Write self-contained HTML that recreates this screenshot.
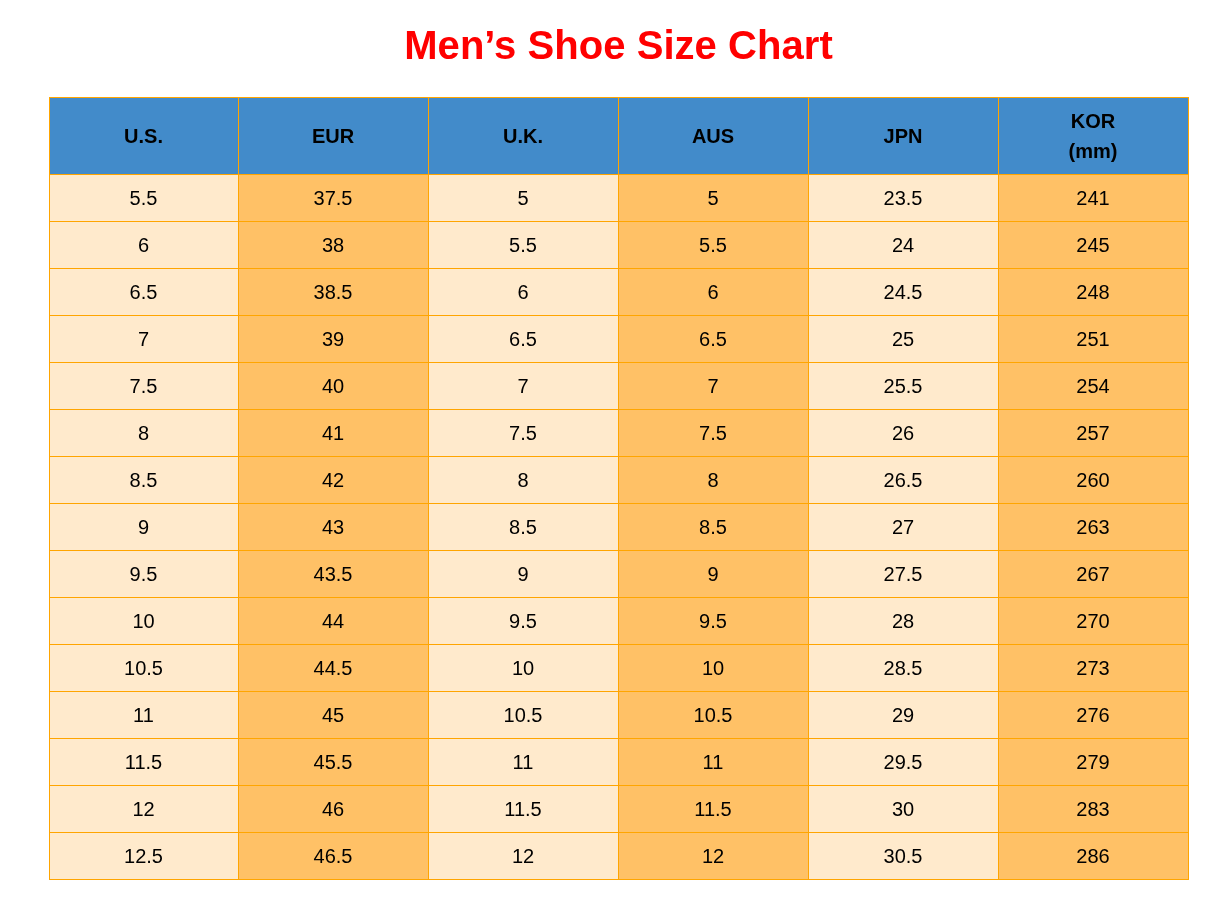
<!DOCTYPE html>
<html lang="en">
<head>
<meta charset="utf-8">
<title>Men’s Shoe Size Chart</title>
<style>
html,body{margin:0;padding:0;background:#fff;}
body{width:1230px;height:910px;position:relative;overflow:hidden;font-family:"Liberation Sans",Arial,sans-serif;color:#000;}
h1{position:absolute;left:0;top:22px;width:1230px;margin:0;text-align:center;font-size:40px;line-height:46px;font-weight:bold;color:#ff0000;white-space:nowrap;letter-spacing:0.05px;text-indent:7px}
.grid{position:absolute;left:49px;top:97px;width:1138px;height:781px;padding:1px;background:#ffa500;display:grid;grid-template-columns:188px repeat(5,189px);grid-template-rows:76px repeat(15,46px);gap:1px;}
.grid div{box-sizing:border-box;padding-right:1px;display:flex;align-items:center;justify-content:center;text-align:center;font-size:20px;line-height:30px;}
.h{background:#428bca;font-weight:bold;}
.a{background:#ffeacc;}
.b{background:#ffc166;}
</style>
</head>
<body>
<h1>Men’s Shoe Size Chart</h1>
<div class="grid">
<div class="h">U.S.</div>
<div class="h">EUR</div>
<div class="h">U.K.</div>
<div class="h">AUS</div>
<div class="h">JPN</div>
<div class="h">KOR<br>(mm)</div>
<div class="a">5.5</div>
<div class="b">37.5</div>
<div class="a">5</div>
<div class="b">5</div>
<div class="a">23.5</div>
<div class="b">241</div>
<div class="a">6</div>
<div class="b">38</div>
<div class="a">5.5</div>
<div class="b">5.5</div>
<div class="a">24</div>
<div class="b">245</div>
<div class="a">6.5</div>
<div class="b">38.5</div>
<div class="a">6</div>
<div class="b">6</div>
<div class="a">24.5</div>
<div class="b">248</div>
<div class="a">7</div>
<div class="b">39</div>
<div class="a">6.5</div>
<div class="b">6.5</div>
<div class="a">25</div>
<div class="b">251</div>
<div class="a">7.5</div>
<div class="b">40</div>
<div class="a">7</div>
<div class="b">7</div>
<div class="a">25.5</div>
<div class="b">254</div>
<div class="a">8</div>
<div class="b">41</div>
<div class="a">7.5</div>
<div class="b">7.5</div>
<div class="a">26</div>
<div class="b">257</div>
<div class="a">8.5</div>
<div class="b">42</div>
<div class="a">8</div>
<div class="b">8</div>
<div class="a">26.5</div>
<div class="b">260</div>
<div class="a">9</div>
<div class="b">43</div>
<div class="a">8.5</div>
<div class="b">8.5</div>
<div class="a">27</div>
<div class="b">263</div>
<div class="a">9.5</div>
<div class="b">43.5</div>
<div class="a">9</div>
<div class="b">9</div>
<div class="a">27.5</div>
<div class="b">267</div>
<div class="a">10</div>
<div class="b">44</div>
<div class="a">9.5</div>
<div class="b">9.5</div>
<div class="a">28</div>
<div class="b">270</div>
<div class="a">10.5</div>
<div class="b">44.5</div>
<div class="a">10</div>
<div class="b">10</div>
<div class="a">28.5</div>
<div class="b">273</div>
<div class="a">11</div>
<div class="b">45</div>
<div class="a">10.5</div>
<div class="b">10.5</div>
<div class="a">29</div>
<div class="b">276</div>
<div class="a">11.5</div>
<div class="b">45.5</div>
<div class="a">11</div>
<div class="b">11</div>
<div class="a">29.5</div>
<div class="b">279</div>
<div class="a">12</div>
<div class="b">46</div>
<div class="a">11.5</div>
<div class="b">11.5</div>
<div class="a">30</div>
<div class="b">283</div>
<div class="a">12.5</div>
<div class="b">46.5</div>
<div class="a">12</div>
<div class="b">12</div>
<div class="a">30.5</div>
<div class="b">286</div>
</div>
</body>
</html>
